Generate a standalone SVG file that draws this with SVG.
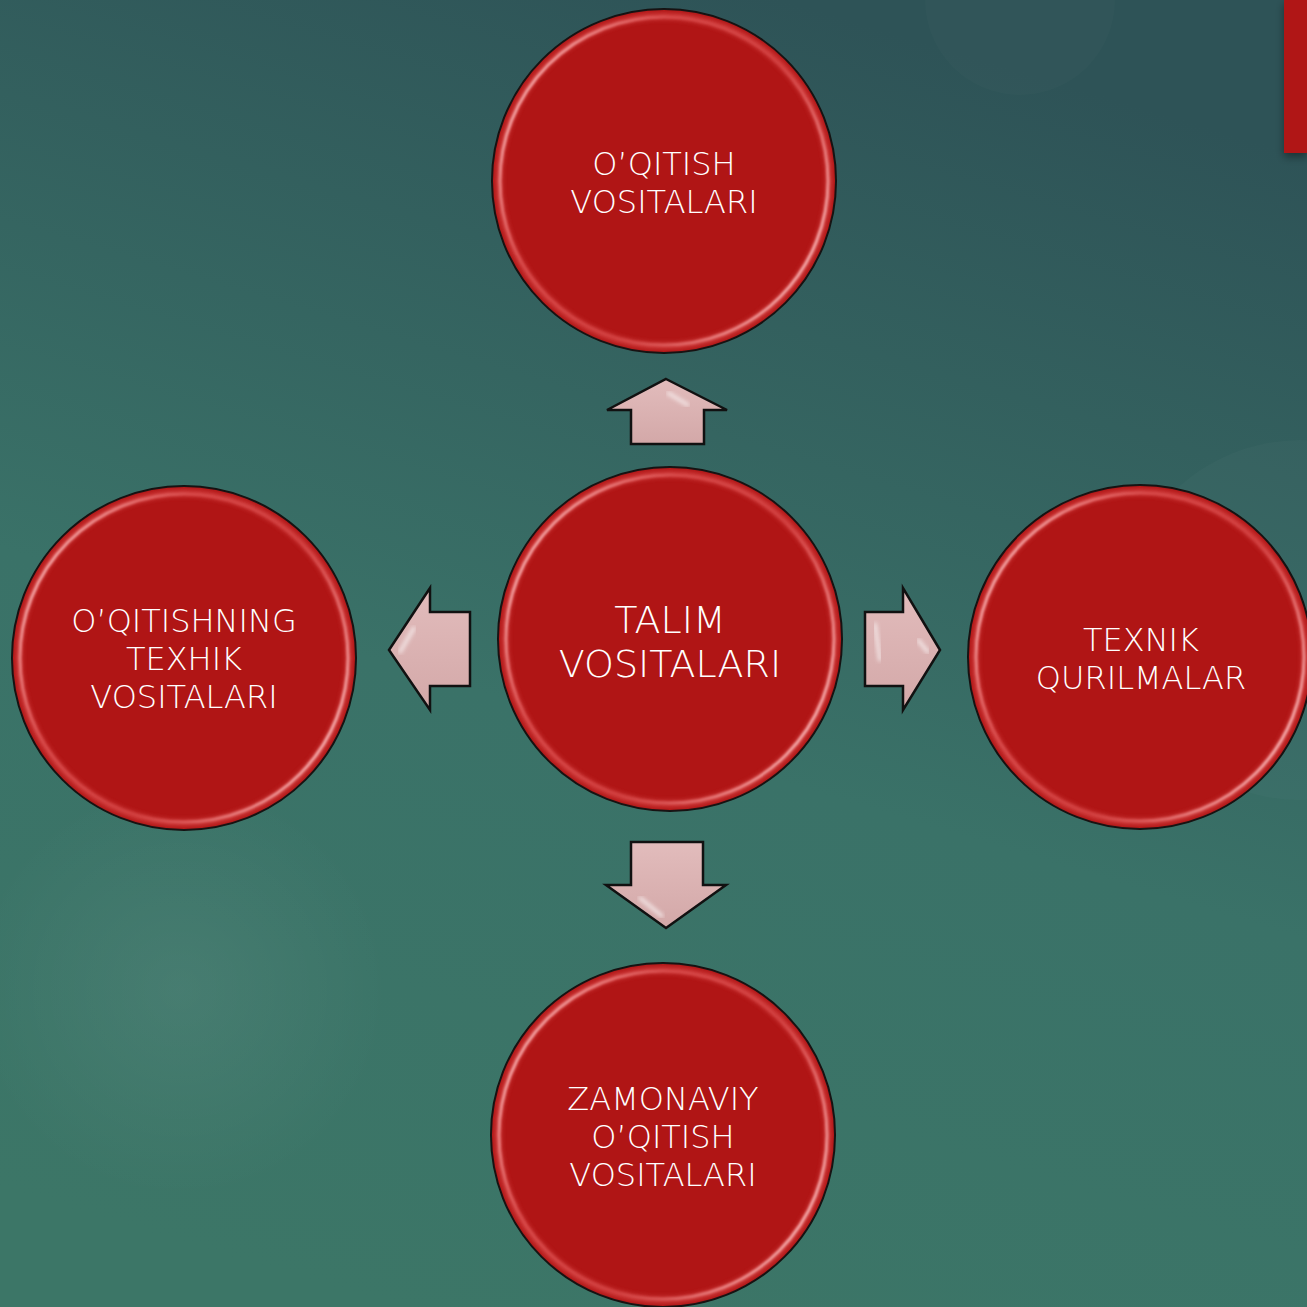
<svg xmlns="http://www.w3.org/2000/svg" width="1307" height="1307" viewBox="0 0 1307 1307">
<defs>
<linearGradient id="bg" x1="0.6" y1="0" x2="0.3" y2="1">
<stop offset="0" stop-color="#2e5357"/>
<stop offset="0.55" stop-color="#3a7268"/>
<stop offset="1" stop-color="#3c7667"/>
</linearGradient>
<radialGradient id="glow" cx="0.5" cy="0.5" r="0.5">
<stop offset="0" stop-color="#ffffff" stop-opacity="0.06"/>
<stop offset="1" stop-color="#ffffff" stop-opacity="0"/>
</radialGradient>
<linearGradient id="arrowFill" x1="0" y1="0" x2="0" y2="1">
<stop offset="0" stop-color="#e2bcbc"/>
<stop offset="1" stop-color="#d3a8a8"/>
</linearGradient>
<linearGradient id="rimGrad" x1="0" y1="0.2" x2="1" y2="0.8">
<stop offset="0" stop-color="#ffd0d0" stop-opacity="0.95"/>
<stop offset="0.3" stop-color="#f07070" stop-opacity="0.35"/>
<stop offset="0.6" stop-color="#f07070" stop-opacity="0.2"/>
<stop offset="1" stop-color="#ffd0d0" stop-opacity="0.95"/>
</linearGradient>
<filter id="blur2" x="-10%" y="-10%" width="120%" height="120%"><feGaussianBlur stdDeviation="2"/></filter>
<filter id="blur1" x="-10%" y="-10%" width="120%" height="120%"><feGaussianBlur stdDeviation="1"/></filter>
<filter id="shadow" x="-50%" y="-10%" width="200%" height="130%"><feDropShadow dx="0" dy="4" stdDeviation="4" flood-color="#000" flood-opacity="0.4"/></filter>
<style>
.disc{fill:#b01515;stroke:#111;stroke-width:2}
.rim{fill:none;stroke:#e05050;stroke-width:7;opacity:0.6}
.rim2{fill:none;stroke:url(#rimGrad);stroke-width:3}
.lbl{font-family:"DejaVu Sans","Liberation Sans",sans-serif;fill:#ffffff;text-anchor:middle;font-weight:300}
.arrow{fill:url(#arrowFill);stroke:#111;stroke-width:2.5;stroke-linejoin:miter}
.hl{fill:none;stroke:#ffffff;stroke-width:3;opacity:0.8;stroke-linecap:round}
</style>
</defs>
<rect width="1307" height="1307" fill="url(#bg)"/>
<circle cx="1020" cy="0" r="95" fill="#ffffff" opacity="0.015"/>
<circle cx="180" cy="990" r="210" fill="url(#glow)"/>
<circle cx="1300" cy="620" r="180" fill="#ffffff" opacity="0.02"/>
<rect x="1284" y="0" width="23" height="153" fill="#b01515" filter="url(#shadow)"/>

<g id="connectors">
<g id="arrow-up">
<path class="arrow" d="M666,379 L727,410 L704,410 L704,444 L631,444 L631,410 L607,410 Z"/>
<path class="hl" d="M668,393 L688,405" filter="url(#blur2)"/>
<path class="hl" d="M642,436 L694,436" filter="url(#blur2)"/>
</g>
<g id="arrow-left">
<path class="arrow" d="M389,650 L430,588 L430,612 L470,612 L470,686 L430,686 L430,710 Z"/>
<path class="hl" d="M400,652 L414,628" filter="url(#blur2)"/>
<path class="hl" d="M457,624 L457,674" filter="url(#blur2)"/>
</g>
<g id="arrow-right">
<path class="arrow" d="M940,650 L903,588 L903,612 L865,612 L865,686 L903,686 L903,710 Z"/>
<path class="hl" d="M875,624 L880,660" filter="url(#blur2)"/>
<path class="hl" d="M918,640 L928,652" filter="url(#blur2)"/>
</g>
<g id="arrow-down">
<path class="arrow" d="M666,928 L726,885 L703,885 L703,842 L631,842 L631,885 L606,885 Z"/>
<path class="hl" d="M642,852 L694,852" filter="url(#blur2)"/>
<path class="hl" d="M640,898 L662,916" filter="url(#blur2)"/>
</g>
</g>

<g id="node-top">
<circle class="disc" cx="664" cy="181" r="172"/>
<circle class="rim" cx="664" cy="181" r="165" filter="url(#blur2)"/>
<circle class="rim2" cx="664" cy="181" r="164" filter="url(#blur1)"/>
<text class="lbl" x="664" y="175" font-size="32">O’QITISH</text>
<text class="lbl" x="664" y="213" font-size="32">VOSITALARI</text>
</g>
<g id="node-center">
<circle class="disc" cx="670" cy="639" r="172"/>
<circle class="rim" cx="670" cy="639" r="165" filter="url(#blur2)"/>
<circle class="rim2" cx="670" cy="639" r="164" filter="url(#blur1)"/>
<text class="lbl" x="670" y="633" font-size="38">TALIM</text>
<text class="lbl" x="670" y="677" font-size="38">VOSITALARI</text>
</g>
<g id="node-left">
<circle class="disc" cx="184" cy="658" r="172"/>
<circle class="rim" cx="184" cy="658" r="165" filter="url(#blur2)"/>
<circle class="rim2" cx="184" cy="658" r="164" filter="url(#blur1)"/>
<text class="lbl" x="184" y="632" font-size="32">O’QITISHNING</text>
<text class="lbl" x="184" y="670" font-size="32">TEXHIK</text>
<text class="lbl" x="184" y="708" font-size="32">VOSITALARI</text>
</g>
<g id="node-right">
<circle class="disc" cx="1140" cy="657" r="172"/>
<circle class="rim" cx="1140" cy="657" r="165" filter="url(#blur2)"/>
<circle class="rim2" cx="1140" cy="657" r="164" filter="url(#blur1)"/>
<text class="lbl" x="1141" y="651" font-size="32">TEXNIK</text>
<text class="lbl" x="1141" y="689" font-size="32">QURILMALAR</text>
</g>
<g id="node-bottom">
<circle class="disc" cx="663" cy="1135" r="172"/>
<circle class="rim" cx="663" cy="1135" r="165" filter="url(#blur2)"/>
<circle class="rim2" cx="663" cy="1135" r="164" filter="url(#blur1)"/>
<text class="lbl" x="663" y="1110" font-size="32">ZAMONAVIY</text>
<text class="lbl" x="663" y="1148" font-size="32">O’QITISH</text>
<text class="lbl" x="663" y="1186" font-size="32">VOSITALARI</text>
</g>
</svg>
